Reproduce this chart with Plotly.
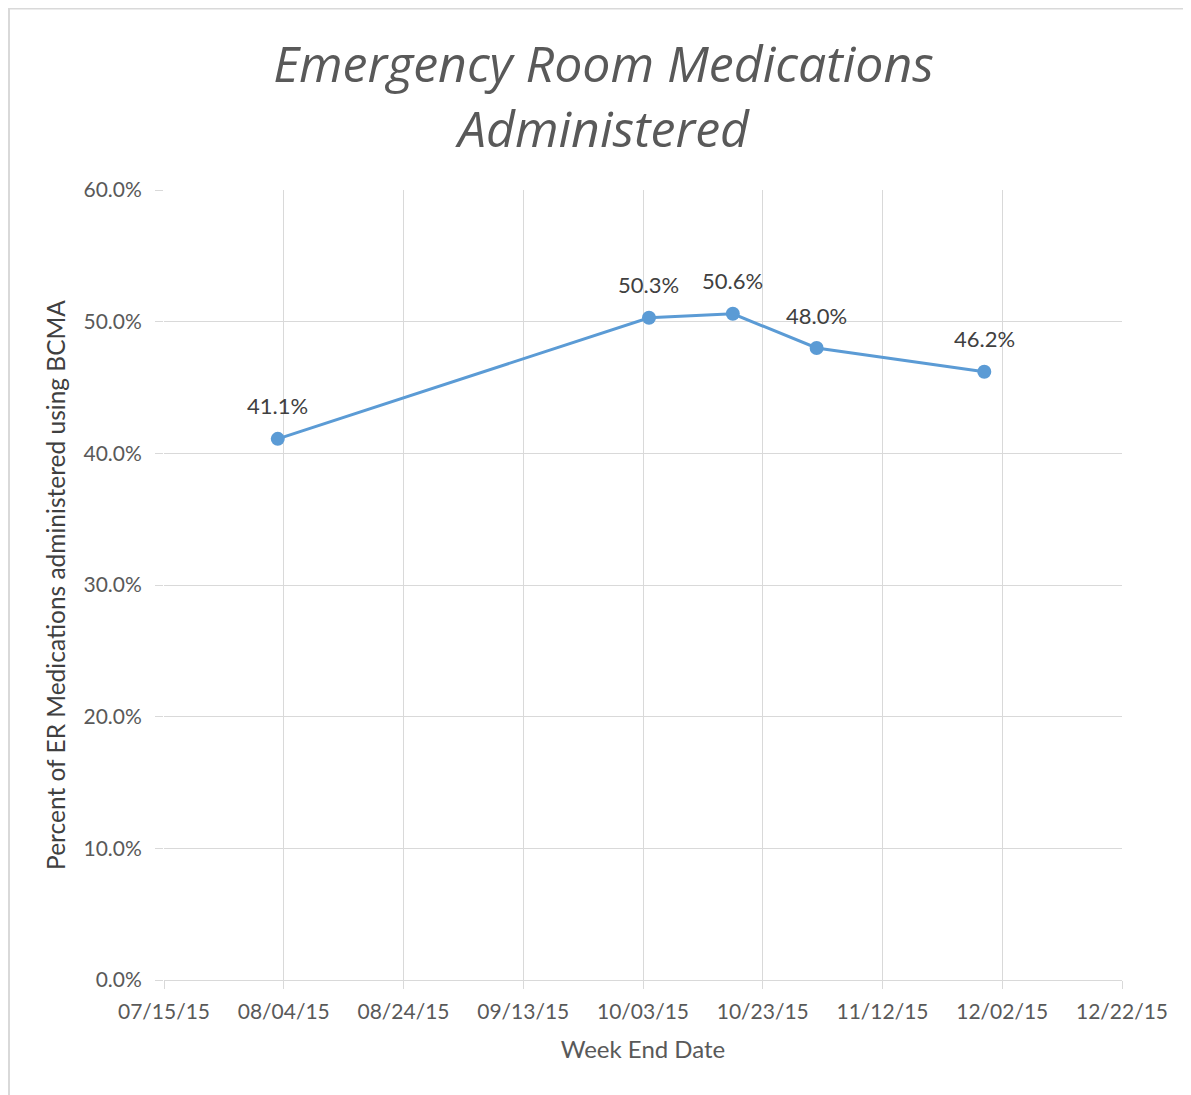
import plotly.graph_objects as go

dates = ["2015-08-03", "2015-10-04", "2015-10-18", "2015-11-01", "2015-11-29"]
values = [0.411, 0.503, 0.506, 0.480, 0.462]
labels = ["41.1%", "50.3%", "50.6%", "48.0%", "46.2%"]

title_text = "Emergency Room Medications<br>Administered"
x_title = "Week End Date"
y_title = "Percent of ER Medications administered using BCMA"

FONT = "Lato, 'Open Sans', sans-serif"
TFONT = "'Open Sans', Lato, sans-serif"
GRID = "#d9d9d9"
TXT = "#595959"

fig = go.Figure()
fig.add_trace(go.Scatter(
    x=dates, y=values, mode="lines+markers",
    line=dict(color="#5B9BD5", width=3),
    marker=dict(color="#5B9BD5", size=14),
    hoverinfo="skip", showlegend=False,
))

for d, v, t in zip(dates, values, labels):
    fig.add_annotation(x=d, y=v, text=t, showarrow=False, yshift=33,
                       font=dict(family=FONT, size=22, color="#404040"))

L, T, PW, PH = 156, 182, 958, 790
fig.update_layout(
    width=1191, height=1095,
    margin=dict(l=L, r=1191 - L - PW, t=T, b=1095 - T - PH),
    paper_bgcolor="white", plot_bgcolor="white",
    title=dict(text=title_text, x=0.5, xanchor="center", y=0.9325, yanchor="middle",
               font=dict(family=TFONT, size=50, color=TXT, style="italic")),
    xaxis=dict(
        type="date", range=["2015-07-15", "2015-12-22"],
        tick0="2015-07-15", dtick=20 * 86400000, tickformat="%m/%d/%y",
        showgrid=True, gridcolor=GRID, gridwidth=1,
        showline=True, linecolor=GRID, linewidth=1,
        ticks="outside", ticklen=8, tickcolor=GRID,
        ticklabelstandoff=5,
        tickfont=dict(family=FONT, size=21, color=TXT),
        title=dict(text=x_title, font=dict(family=FONT, size=24, color=TXT), standoff=18),
        zeroline=False,
    ),
    yaxis=dict(
        range=[0, 0.6], dtick=0.1, tickformat=".1%",
        showgrid=True, gridcolor=GRID, gridwidth=1,
        showline=False, zeroline=False,
        ticks="outside", ticklen=8, tickcolor=GRID,
        ticklabelstandoff=9,
        tickfont=dict(family=FONT, size=21, color=TXT),
        title=dict(text=y_title, font=dict(family=FONT, size=24.5, color="#404040"), standoff=10),
    ),
)

# outer chart border (top and left edges visible)
fig.add_shape(type="line", xref="paper", yref="paper",
              x0=(0 - L) / PW, x1=(1191 - L) / PW,
              y0=(T + PH - 0.5) / PH, y1=(T + PH - 0.5) / PH,
              line=dict(color=GRID, width=2), layer="below")
fig.add_shape(type="line", xref="paper", yref="paper",
              x0=(0.5 - L) / PW, x1=(0.5 - L) / PW,
              y0=(T + PH - 1095) / PH, y1=(T + PH) / PH,
              line=dict(color=GRID, width=3), layer="below")

fig.write_html("out.html")
